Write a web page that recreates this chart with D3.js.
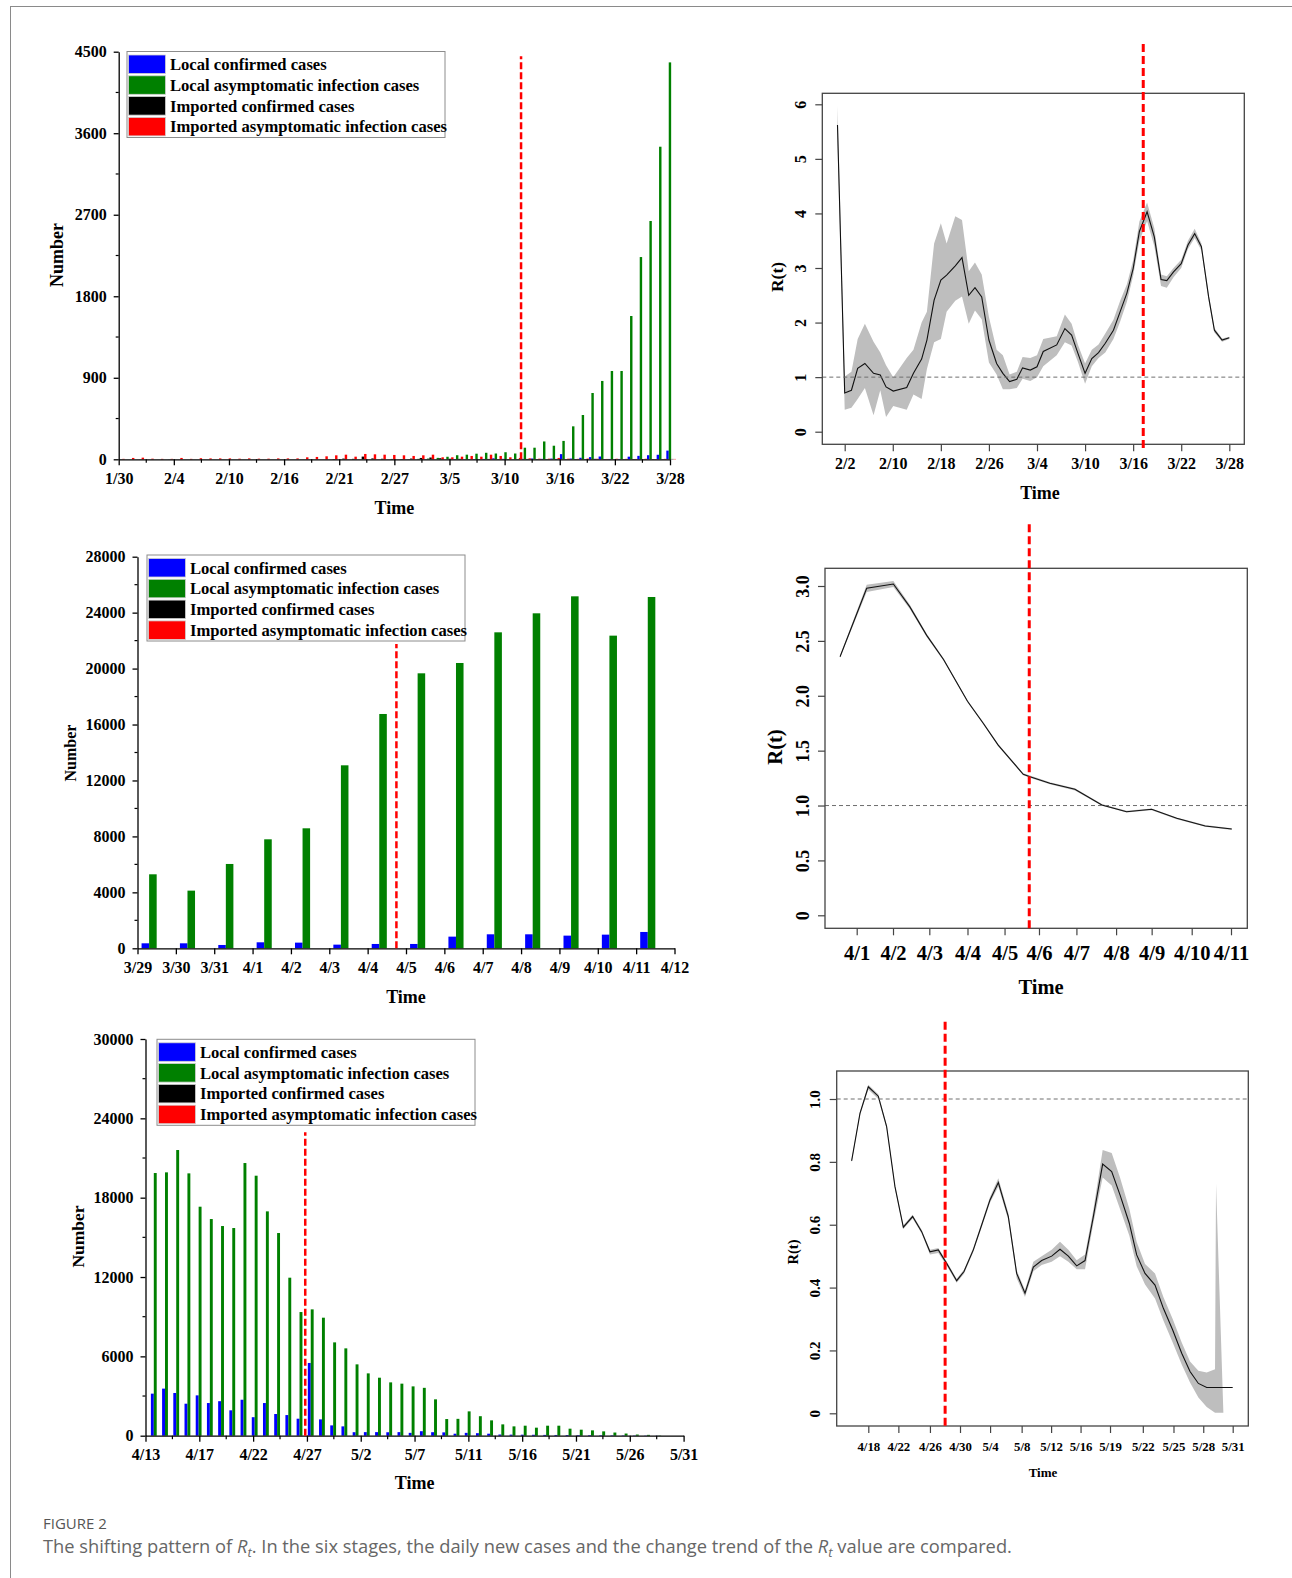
<!DOCTYPE html>
<html>
<head>
<meta charset="utf-8">
<script src="https://cdn.jsdelivr.net/npm/d3@7"></script>
<style>
  body { margin: 0; background: #fff; }
  svg text { font-family: "Liberation Serif", "Times New Roman", serif; font-weight: bold; fill: #000; }
  svg text.cap { font-family: "Open Sans", "Noto Sans", sans-serif; font-weight: normal; }
</style>
</head>
<body>
<svg id="fig" width="1292" height="1578"></svg>
<script>
// ---------- shared ----------
const seriesNames = ["Local confirmed cases", "Local asymptomatic infection cases",
  "Imported confirmed cases", "Imported asymptomatic infection cases"];
const seriesColors = ["#0000ff", "#008000", "#000000", "#ff0000"];

// ---------- stage 1 bars: 1/30 .. 3/28 (one value per day) ----------
const p1Labels = ["1/30", "2/4", "2/10", "2/16", "2/21", "2/27", "3/5", "3/10", "3/16", "3/22", "3/28"];
const p1LocalConfirmed = [0,0,0,0,0,0,0,0,0,0, 0,0,0,0,0,0,0,0,0,0, 0,0,0,0,0,0,0,0,0,0,
  1,0,2,0,0,3,1,3,4,11, 5,1,5,9,5,8,57,8,17,24, 31,4,4,29,38,45,50,96];
const p1LocalAsym = [0,0,0,0,0,0,0,0,0,0, 0,0,0,0,0,0,0,0,0,0, 0,0,0,0,0,0,0,0,0,0,
  2,5,8,16,28,45,51,62,72,64, 78,64,128,128,197,150,203,364,489,732, 865,975,975,1582,2233,2631,3451,4382];
const p1ImportConfirmed = [2,0,1,0,0,1,0,0,0,0, 0,0,0,0,0,0,0,0,0,0, 0,0,3,8,5,30,10,6,4,3,
  8,15,20,12,6,5,2,3,4,2, 3,2,4,3,2,4,2,3,2,5, 3,2,2,3,2,3,2,4];
const p1ImportAsym = [5,15,18,7,5,5,15,5,12,10, 10,10,7,10,7,7,10,10,10,22, 26,33,44,51,29,59,55,51,48,44,
  37,44,51,22,22,29,37,29,51,37, 22,15,11,7,7,15,7,5,8,6, 4,6,5,4,6,3,5,4];
const p1Change = 41.6;   // day index of the red dashed line

// ---------- stage 2 bars: 3/29 .. 4/11 ----------
const p2Labels = ["3/29", "3/30", "3/31", "4/1", "4/2", "4/3", "4/4", "4/5", "4/6", "4/7", "4/8", "4/9", "4/10", "4/11", "4/12"];
const p2LocalConfirmed = [357, 357, 238, 429, 405, 262, 310, 310, 834, 1001, 1001, 906, 977, 1168];
const p2LocalAsym = [5291, 4123, 6030, 7793, 8580, 13084, 16754, 19662, 20400, 22593, 23952, 25167, 22355, 25119];
const p2ImportConfirmed = [0,0,0,0,0,0,0,0,0,0,0,0,0,0];
const p2ImportAsym = [0,0,0,0,0,0,0,0,0,0,0,0,0,0];
const p2Change = 6.75;

// ---------- stage 3 bars: 4/13 .. 5/28 ----------
const p3Labels = ["4/13", "4/17", "4/22", "4/27", "5/2", "5/7", "5/11", "5/16", "5/21", "5/26", "5/31"];
const p3LocalConfirmed = [3180,3560,3230,2420,3050,2470,2610,1920,2720,1400, 2470,1640,1560,1285,5500,1235,780,705,265,270,
  270,260,270,215,340,265,252,150,215,190, 151,90,80,76,70,60,55,50,45,40, 35,30,25,20,15,10];
const p3LocalAsym = [19865,19915,21604,19839,17318,16385,15856,15705,20620,19662, 16965,15327,11949,9352,9554,8924,7058,6605,5395,4714,
  4386,4033,3936,3730,3620,2750,1260,1275,1840,1475, 1160,857,706,757,607,757,757,531,455,404, 328,240,164,88,63,20];
const p3ImportConfirmed = new Array(46).fill(0);
const p3ImportAsym = new Array(46).fill(0);
const p3Change = 14.25;

// ---------- R(t) stage 1 ----------
const r1Labels = ["2/2", "2/10", "2/18", "2/26", "3/4", "3/10", "3/16", "3/22", "3/28"];
const r1TickPos = [0, 1, 2, 3, 4, 5, 6, 7, 8];
const r1T = [-0.15,0,0.14,0.27,0.42,0.6,0.74,0.86,1.01,1.29, 1.43,1.6,1.71,1.86,2.0,2.12,2.3,2.44,2.58,2.71,
  2.85,3.0,3.16,3.29,3.43,3.58,3.7,3.86,4.0,4.13, 4.41,4.58,4.72,4.85,5.0,5.14,5.28,5.42,5.59,5.73,
  5.87,6.0,6.13,6.29,6.44,6.58,6.7,6.84,7.0,7.14, 7.28,7.42,7.57,7.69,7.85,8.0];
const r1Mean = [5.62,0.71,0.76,1.16,1.25,1.07,1.04,0.82,0.745,0.81, 1.07,1.33,1.68,2.41,2.78,2.87,3.04,3.19,2.50,2.64,
  2.47,1.68,1.25,1.07,0.92,0.96,1.17,1.13,1.19,1.47, 1.59,1.89,1.77,1.44,1.07,1.34,1.45,1.62,1.86,2.20,
  2.54,2.99,3.67,4.03,3.57,2.79,2.77,2.93,3.08,3.42, 3.63,3.39,2.47,1.86,1.68,1.72];
const r1Lo = [5.30,0.40,0.44,0.60,0.80,0.30,0.76,0.27,0.47,0.40, 0.68,0.60,1.15,1.64,1.70,2.20,2.40,2.48,1.98,2.22,
  2.06,1.27,1.05,0.78,0.78,0.80,0.97,0.93,1.00,1.20, 1.40,1.64,1.58,1.28,0.88,1.20,1.35,1.45,1.70,2.02,
  2.38,2.86,3.50,3.86,3.40,2.67,2.64,2.83,3.00,3.35, 3.55,3.32,2.40,1.82,1.65,1.70];
const r1Hi = [5.97,1.01,1.10,1.70,1.98,1.65,1.45,1.22,1.00,1.35, 1.50,2.00,2.20,3.45,3.82,3.45,3.95,3.88,2.94,3.10,
  2.88,2.10,1.50,1.40,1.05,1.10,1.37,1.35,1.40,1.70, 1.75,2.15,1.98,1.60,1.25,1.50,1.60,1.80,2.05,2.40,
  2.70,3.14,3.85,4.20,3.73,2.88,2.85,3.00,3.15,3.50, 3.72,3.45,2.52,1.90,1.71,1.74];
const r1Change = 6.21;

// ---------- R(t) stage 2 ----------
const r2Labels = ["4/1", "4/2", "4/3", "4/4", "4/5", "4/6", "4/7", "4/8", "4/9", "4/10", "4/11"];
const r2TickPos = [0, 0.97, 1.94, 2.96, 3.95, 4.87, 5.87, 6.93, 7.88, 8.95, 10];
const r2T = [-0.445,0.267,0.98,1.42,1.87,2.32,2.96,3.38,3.78,4.45,4.63,5.16,5.83,6.55,7.21,7.88,8.55,9.31,10.02];
const r2Mean = [2.356,2.979,3.018,2.81,2.55,2.33,1.95,1.75,1.55,1.285,1.263,1.203,1.148,1.005,0.944,0.966,0.884,0.814,0.786];
const r2Lo = [2.346,2.945,2.99,2.79,2.535,2.318,1.94,1.74,1.54,1.275,1.253,1.193,1.138,0.997,0.936,0.958,0.876,0.806,0.778];
const r2Hi = [2.366,3.012,3.045,2.83,2.565,2.342,1.96,1.76,1.56,1.295,1.273,1.213,1.158,1.013,0.952,0.974,0.892,0.822,0.794];
const r2Change = 4.61;

// ---------- R(t) stage 3 ----------
const r3Labels = ["4/18", "4/22", "4/26", "4/30", "5/4", "5/8", "5/12", "5/16", "5/19", "5/22", "5/25", "5/28", "5/31"];
const r3TickPos = [0, 0.99, 2.03, 3.02, 4.01, 5.05, 6.02, 6.99, 7.96, 9.04, 10.05, 11.03, 12];
const r3T = [-0.549,-0.274,0,0.329,0.604,0.878,1.153,1.46,1.757,2.031, 2.306,2.58,2.91,3.151,3.458,3.733,4.008,4.282,4.611,4.886,
  5.16,5.435,5.709,6.039,6.313,6.588,6.862,7.137,7.411,7.718, 8.015,8.289,8.597,8.838,9.113,9.442,9.717,10.024,10.321,10.595,
  10.87,11.144,11.418,11.451,11.693,12.0];
const r3Mean = [0.803,0.954,1.039,1.009,0.912,0.721,0.592,0.626,0.578,0.514, 0.520,0.477,0.422,0.451,0.520,0.599,0.679,0.734,0.626,0.445,
  0.382,0.465,0.486,0.500,0.522,0.500,0.469,0.486,0.626,0.793, 0.769,0.695,0.604,0.504,0.445,0.408,0.334,0.265,0.191,0.133,
  0.095,0.082,0.082,0.082,0.082,0.082];
const r3Lo = [0.798,0.948,1.030,1.000,0.905,0.715,0.586,0.620,0.572,0.505, 0.510,0.470,0.415,0.444,0.513,0.592,0.670,0.722,0.615,0.430,
  0.370,0.452,0.472,0.482,0.500,0.482,0.458,0.458,0.605,0.750, 0.725,0.650,0.565,0.468,0.410,0.365,0.295,0.225,0.155,0.098,
  0.050,0.020,0.002,0.002,0.002,null];
const r3Hi = [0.808,0.960,1.045,1.015,0.918,0.727,0.598,0.632,0.584,0.520, 0.526,0.483,0.428,0.457,0.527,0.606,0.688,0.748,0.637,0.455,
  0.392,0.482,0.500,0.520,0.546,0.520,0.487,0.505,0.648,0.838, 0.828,0.750,0.650,0.545,0.475,0.445,0.370,0.300,0.225,0.165,
  0.135,0.130,0.140,0.730,0.002,null];
const r3Change = 2.53;

// ---------- drawing ----------
const svg = d3.select("#fig");
svg.append("rect").attr("width", 1292).attr("height", 1578).attr("fill", "#fff");
svg.append("rect").attr("x", 10.5).attr("y", 6.5).attr("width", 1400).attr("height", 1700)
  .attr("fill", "none").attr("stroke", "#8a8a8a");

function styleAxis(sel, fs) {
  sel.selectAll("path,line").attr("stroke", "#000").attr("stroke-width", 1.3);
  sel.selectAll("text").style("font-size", fs + "px");
}

function barPanel(o) {
  const g = svg.append("g");
  const x = d3.scaleLinear().domain([0, o.days]).range([o.x0, o.x1]);
  const y = d3.scaleLinear().domain([0, o.yMax]).range([o.y0, o.y1]);
  const bw = x(o.bw) - x(0);

  o.series.forEach((vals, k) => {
    g.append("g").selectAll("rect").data(vals).join("rect")
      .attr("x", (d, i) => x(i + o.center + (k - 2) * o.bw))
      .attr("y", d => y(d))
      .attr("width", bw)
      .attr("height", d => y(0) - y(d))
      .attr("fill", seriesColors[k]);
  });

  // y axis with minor ticks
  const ya = g.append("g").attr("transform", `translate(${o.x0},0)`)
    .call(d3.axisLeft(y).tickValues(d3.range(0, o.yMax + 1, o.yStep))
      .tickSize(5).tickSizeOuter(0).tickPadding(7).tickFormat(d3.format("d")));
  styleAxis(ya, 16);
  g.append("g").selectAll("line").data(d3.range(o.yStep / 2, o.yMax, o.yStep)).join("line")
    .attr("x1", o.x0).attr("x2", o.x0 - 3).attr("y1", d => y(d)).attr("y2", d => y(d))
    .attr("stroke", "#000").attr("stroke-width", 1.2);

  // x axis
  const xp = d3.scalePoint().domain(o.labels).range([o.x0, o.x1]);
  const xa = g.append("g").attr("transform", `translate(0,${o.y0})`)
    .call(d3.axisBottom(xp).tickSize(6).tickSizeOuter(0).tickPadding(o.xPad));
  styleAxis(xa, 16);
  if (o.minorX) {
    const mids = o.labels.slice(1).map((l, i) => (xp(o.labels[i]) + xp(l)) / 2);
    g.append("g").selectAll("line").data(mids).join("line")
      .attr("x1", d => d).attr("x2", d => d).attr("y1", o.y0).attr("y2", o.y0 + 3.5)
      .attr("stroke", "#000").attr("stroke-width", 1.2);
  }

  // change point
  g.append("line").attr("x1", x(o.change)).attr("x2", x(o.change))
    .attr("y1", y(0)).attr("y2", y(o.changeTop))
    .attr("stroke", "#ff0000").attr("stroke-width", 2.5).attr("stroke-dasharray", "7,3");

  // legend
  const lg = g.append("g").attr("transform", `translate(${o.legX},${o.legY})`);
  lg.append("rect").attr("width", 318).attr("height", 86).attr("fill", "#fff").attr("stroke", "#8c8c8c");
  seriesNames.forEach((name, k) => {
    lg.append("rect").attr("x", 1.5).attr("y", 3.5 + k * 20.8).attr("width", 37).attr("height", 18.5)
      .attr("fill", seriesColors[k]).attr("stroke", "#d0d0d0").attr("stroke-width", 0.8);
    lg.append("text").attr("x", 43).attr("y", 12.7 + k * 20.8).attr("dy", "0.35em")
      .style("font-size", "16.6px").text(name);
  });

  g.append("text").attr("x", (o.x0 + o.x1) / 2 + o.timeDx).attr("y", o.timeY).attr("dy", "0.35em")
    .attr("text-anchor", "middle").style("font-size", "18px").text("Time");
  g.append("text").attr("transform", `translate(${o.numX},${o.numY}) rotate(-90)`).attr("dy", "0.35em")
    .attr("text-anchor", "middle").style("font-size", o.numFs + "px").text("Number");
}

function rPanel(o) {
  const g = svg.append("g");
  const x = d3.scaleLinear().domain(o.xDom).range(o.xRange);
  const y = d3.scaleLinear().domain(o.yDom).range(o.yRange);
  const pts = o.t.map((t, i) => ({ t, m: o.mean[i], lo: o.lo[i], hi: o.hi[i] }));

  g.append("path").datum(pts)
    .attr("d", d3.area().defined(d => d.lo != null).x(d => x(d.t)).y0(d => y(d.lo)).y1(d => y(d.hi)))
    .attr("fill", "#bebebe");
  g.append("path").datum(pts)
    .attr("d", d3.line().x(d => x(d.t)).y(d => y(d.m)))
    .attr("fill", "none").attr("stroke", "#111").attr("stroke-width", 1.1);

  // reference line R = 1
  g.append("line").attr("x1", o.box[0]).attr("x2", o.box[1]).attr("y1", y(1)).attr("y2", y(1))
    .attr("stroke", "#6e6e6e").attr("stroke-width", 1).attr("stroke-dasharray", "4,3");

  g.append("rect").attr("x", o.box[0]).attr("y", o.box[2])
    .attr("width", o.box[1] - o.box[0]).attr("height", o.box[3] - o.box[2])
    .attr("fill", "none").attr("stroke", "#444").attr("stroke-width", 1.3);

  // y axis (R style, labels parallel to the axis)
  const ya = g.append("g").attr("transform", `translate(${o.box[0]},0)`)
    .call(d3.axisLeft(y).tickValues(o.yTicks).tickSize(7).tickSizeOuter(0)
      .tickFormat(d => d === 0 ? "0" : d3.format(o.yFmt)(d)));
  ya.select(".domain").remove();
  ya.selectAll("line").attr("stroke", "#444").attr("stroke-width", 1.2);
  ya.selectAll("text").attr("x", null).attr("dy", null)
    .attr("transform", "translate(-22,0) rotate(-90)").attr("dy", "0.35em")
    .attr("text-anchor", "middle").style("font-size", o.yFs + "px");

  // x axis
  const xa = g.append("g").attr("transform", `translate(0,${o.box[3]})`)
    .call(d3.axisBottom(x).tickValues(o.tickPos).tickSize(7).tickSizeOuter(0)
      .tickFormat((d, i) => o.labels[i]));
  xa.select(".domain").remove();
  xa.selectAll("line").attr("stroke", "#444").attr("stroke-width", 1.2);
  xa.selectAll("text").attr("y", o.xLabDy).attr("dy", "0.35em").style("font-size", o.xFs + "px");

  g.append("line").attr("x1", x(o.change)).attr("x2", x(o.change))
    .attr("y1", y(o.changeY[0])).attr("y2", y(o.changeY[1]))
    .attr("stroke", "#ff0000").attr("stroke-width", 3).attr("stroke-dasharray", "8,4");

  g.append("text").attr("x", o.timeX).attr("y", o.timeY).attr("dy", "0.35em")
    .attr("text-anchor", "middle").style("font-size", o.timeFs + "px").text("Time");
  g.append("text").attr("transform", `translate(${o.rX},${o.rY}) rotate(-90)`).attr("dy", "0.35em")
    .attr("text-anchor", "middle").style("font-size", o.rFs + "px").text("R(t)");
}

barPanel({
  series: [p1LocalConfirmed, p1LocalAsym, p1ImportConfirmed, p1ImportAsym], labels: p1Labels,
  days: 57, x0: 118.7, x1: 670, y0: 459.3, y1: 51.7, yMax: 4500, yStep: 900,
  bw: 0.25, center: 0.12, minorX: true, xPad: 7,
  change: p1Change, changeTop: 4450,
  legX: 127, legY: 51.5, timeDx: 0, timeY: 508, numX: 57, numY: 255, numFs: 18
});
barPanel({
  series: [p2LocalConfirmed, p2LocalAsym, p2ImportConfirmed, p2ImportAsym], labels: p2Labels,
  days: 14, x0: 137.5, x1: 674.5, y0: 948.3, y1: 556.7, yMax: 28000, yStep: 4000,
  bw: 0.197, center: 0.5, minorX: false, xPad: 7,
  change: p2Change, changeTop: 21750,
  legX: 147, legY: 555, timeDx: 0, timeY: 996.5, numX: 70.5, numY: 753, numFs: 16
});
barPanel({
  series: [p3LocalConfirmed, p3LocalAsym, p3ImportConfirmed, p3ImportAsym], labels: p3Labels,
  days: 48, x0: 145.5, x1: 683.6, y0: 1435.7, y1: 1039, yMax: 30000, yStep: 6000,
  bw: 0.26, center: 1.0, minorX: true, xPad: 7,
  change: p3Change, changeTop: 22950,
  legX: 157, legY: 1039.3, timeDx: 0, timeY: 1483, numX: 78, numY: 1236.5, numFs: 17.5
});

rPanel({
  t: r1T, mean: r1Mean, lo: r1Lo, hi: r1Hi, labels: r1Labels, tickPos: r1TickPos,
  xDom: [0, 8], xRange: [844.7, 1229.3], yDom: [0, 6], yRange: [431.7, 104.3],
  box: [822.3, 1244.3, 93.3, 444.3], yTicks: [0, 1, 2, 3, 4, 5, 6], yFmt: "d",
  yFs: 16, xFs: 16, xLabDy: 19, change: r1Change, changeY: [-0.3, 7.12],
  timeX: 1040, timeY: 493, timeFs: 18, rX: 777, rY: 277, rFs: 17.5
});
rPanel({
  t: r2T, mean: r2Mean, lo: r2Lo, hi: r2Hi, labels: r2Labels, tickPos: r2TickPos,
  xDom: [0, 10], xRange: [856.7, 1231], yDom: [0, 3], yRange: [915.3, 586],
  box: [825, 1247.3, 568.3, 928.3], yTicks: [0, 0.5, 1, 1.5, 2, 2.5, 3], yFmt: ".1f",
  yFs: 18, xFs: 20.5, xLabDy: 25, change: r2Change, changeY: [-0.118, 3.565],
  timeX: 1041, timeY: 987, timeFs: 20.5, rX: 775, rY: 747, rFs: 20.5
});
rPanel({
  t: r3T, mean: r3Mean, lo: r3Lo, hi: r3Hi, labels: r3Labels, tickPos: r3TickPos,
  xDom: [0, 12], xRange: [868.3, 1232.7], yDom: [0, 1], yRange: [1413.3, 1099],
  box: [836.7, 1248.3, 1071, 1426], yTicks: [0, 0.2, 0.4, 0.6, 0.8, 1], yFmt: ".1f",
  yFs: 15, xFs: 12.8, xLabDy: 21, change: r3Change, changeY: [-0.04, 1.251],
  timeX: 1043, timeY: 1472, timeFs: 13, rX: 793, rY: 1252, rFs: 14.5
});

// caption
svg.append("text").attr("class", "cap").attr("x", 43).attr("y", 1529)
  .style("font-size", "15px").style("fill", "#555").text("FIGURE 2");
const cap = svg.append("text").attr("class", "cap").attr("x", 43).attr("y", 1553)
  .style("font-size", "18.3px").style("fill", "#666");
cap.append("tspan").text("The shifting pattern of ");
cap.append("tspan").style("font-style", "italic").text("R");
cap.append("tspan").style("font-style", "italic").style("font-size", "13px").attr("dy", 4).text("t");
cap.append("tspan").attr("dy", -4).text(". In the six stages, the daily new cases and the change trend of the ");
cap.append("tspan").style("font-style", "italic").text("R");
cap.append("tspan").style("font-style", "italic").style("font-size", "13px").attr("dy", 4).text("t");
cap.append("tspan").attr("dy", -4).text(" value are compared.");
</script>
</body>
</html>
